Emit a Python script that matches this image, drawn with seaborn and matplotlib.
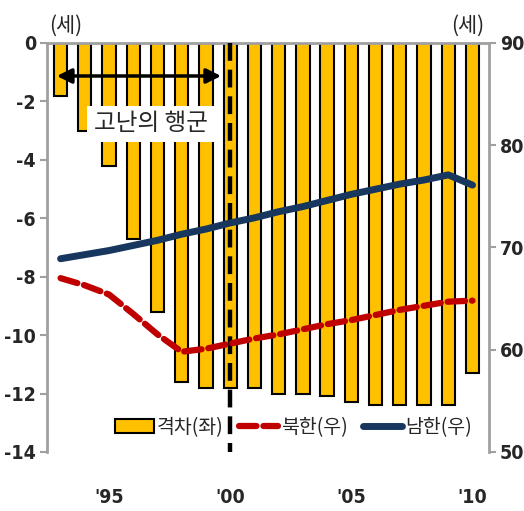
import matplotlib
matplotlib.use('Agg')
import matplotlib.pyplot as plt
from matplotlib.patches import Patch
from matplotlib.lines import Line2D
import numpy as np
import pandas as pd
import seaborn as sns

# data
years = list(range(1993, 2011))
gap = [-1.8, -3.0, -4.2, -6.7, -9.2, -11.6, -11.8, -11.8, -11.8, -12.0,
       -12.0, -12.1, -12.3, -12.4, -12.4, -12.4, -12.4, -11.3]
nk = [67.0, 66.3, 65.4, 63.5, 61.5, 59.8, 60.1, 60.6, 61.1, 61.5,
      62.0, 62.5, 62.9, 63.4, 63.9, 64.3, 64.7, 64.8]
sk = [68.9, 69.3, 69.7, 70.2, 70.7, 71.3, 71.8, 72.4, 72.9, 73.5,
      74.0, 74.6, 75.2, 75.7, 76.2, 76.6, 77.1, 76.1]
xtick_years = [1995, 2000, 2005, 2010]
xtick_labels = ["'95", "'00", "'05", "'10"]
marker_year = 2000
arrow_span = (1992.73, 1999.74)
labels = ['격차(좌)', '북한(우)', '남한(우)']

df = pd.DataFrame({'year': years, 'gap': gap, 'nk': nk, 'sk': sk})

sns.set_style('white')
plt.rcParams['font.family'] = ['Noto Sans CJK KR', 'DejaVu Sans']
plt.rcParams['axes.unicode_minus'] = False

BAR = '#FFC000'
RED = '#C00000'
NAVY = '#17375E'
GREY = '#A0A0A0'
NUMFONT = dict(family='DejaVu Sans', stretch='condensed', weight='bold', size=14)

fig = plt.figure(figsize=(5.24, 5.11), dpi=100)
ax = fig.add_axes([0.0897, 0.1155, 0.8435, 0.8004])

sns.barplot(data=df, x='year', y='gap', native_scale=True, width=0.55,
            color=BAR, edgecolor='black', linewidth=1.5, saturation=1,
            ax=ax, zorder=2)

ax.plot([marker_year, marker_year], [0, -14], color='black', lw=3.2,
        dashes=(4, 2), zorder=3)

ax.annotate('', xy=(arrow_span[0], -1.13), xytext=(arrow_span[1], -1.13),
            arrowprops=dict(arrowstyle='<|-|>', color='black', lw=2.5,
                            mutation_scale=22), zorder=4)
ax.text(1996.73, -2.77, '고난의 행군', fontsize=17, ha='center', va='center',
        bbox=dict(facecolor='white', edgecolor='none', pad=5), zorder=4)

ax.set_xlim(1992.44, 2010.68)
ax.set_ylim(-14, 0)
ax.set_yticks(np.arange(-14, 1, 2))
ax.set_xticks(xtick_years)
ax.set_xticklabels(xtick_labels)
ax.set_xlabel('')
ax.set_ylabel('')
for s in ['bottom', 'right']:
    ax.spines[s].set_visible(False)
for s in ['left', 'top']:
    ax.spines[s].set_color(GREY)
    ax.spines[s].set_linewidth(2)
ax.tick_params(axis='y', direction='out', length=5, width=1.5, color=GREY, pad=3)
ax.tick_params(axis='x', length=0, pad=26)
for lab in ax.get_xticklabels() + ax.get_yticklabels():
    lab.set_fontproperties(NUMFONT)

ax2 = ax.twinx()
sns.lineplot(data=df, x='year', y='nk', color=RED, lw=4.5, ax=ax2)
ax2.lines[-1].set_dashes((2.8, 1.1))
ax2.lines[-1].set_dash_capstyle('round')
sns.lineplot(data=df, x='year', y='sk', color=NAVY, lw=5, ax=ax2)
ax2.set_ylim(50, 90)
ax2.set_yticks([50, 60, 70, 80, 90])
ax2.set_ylabel('')
ax2.set_xlabel('')
for s in ['left', 'top', 'bottom']:
    ax2.spines[s].set_visible(False)
ax2.spines['right'].set_color(GREY)
ax2.spines['right'].set_linewidth(2)
ax2.tick_params(axis='y', direction='out', length=5, width=1.5, color=GREY, pad=3)
for lab in ax2.get_yticklabels():
    lab.set_fontproperties(NUMFONT)

ax.text(0.043, 1.042, '(세)', transform=ax.transAxes, fontsize=15,
        ha='center', va='center')
ax.text(0.952, 1.042, '(세)', transform=ax.transAxes, fontsize=15,
        ha='center', va='center')

handles = [Patch(facecolor=BAR, edgecolor='black', linewidth=1.5),
           Line2D([], [], color=RED, lw=4.5, dashes=(2.8, 1.1), dash_capstyle='round'),
           Line2D([], [], color=NAVY, lw=5, solid_capstyle='round')]
ax2.legend(handles, labels, loc='center', bbox_to_anchor=(0.557, 0.06),
           ncol=3, frameon=False, fontsize=14, handlelength=2.0,
           handletextpad=0.15, columnspacing=0.8, borderaxespad=0)

fig.savefig('out.png', dpi=100)
